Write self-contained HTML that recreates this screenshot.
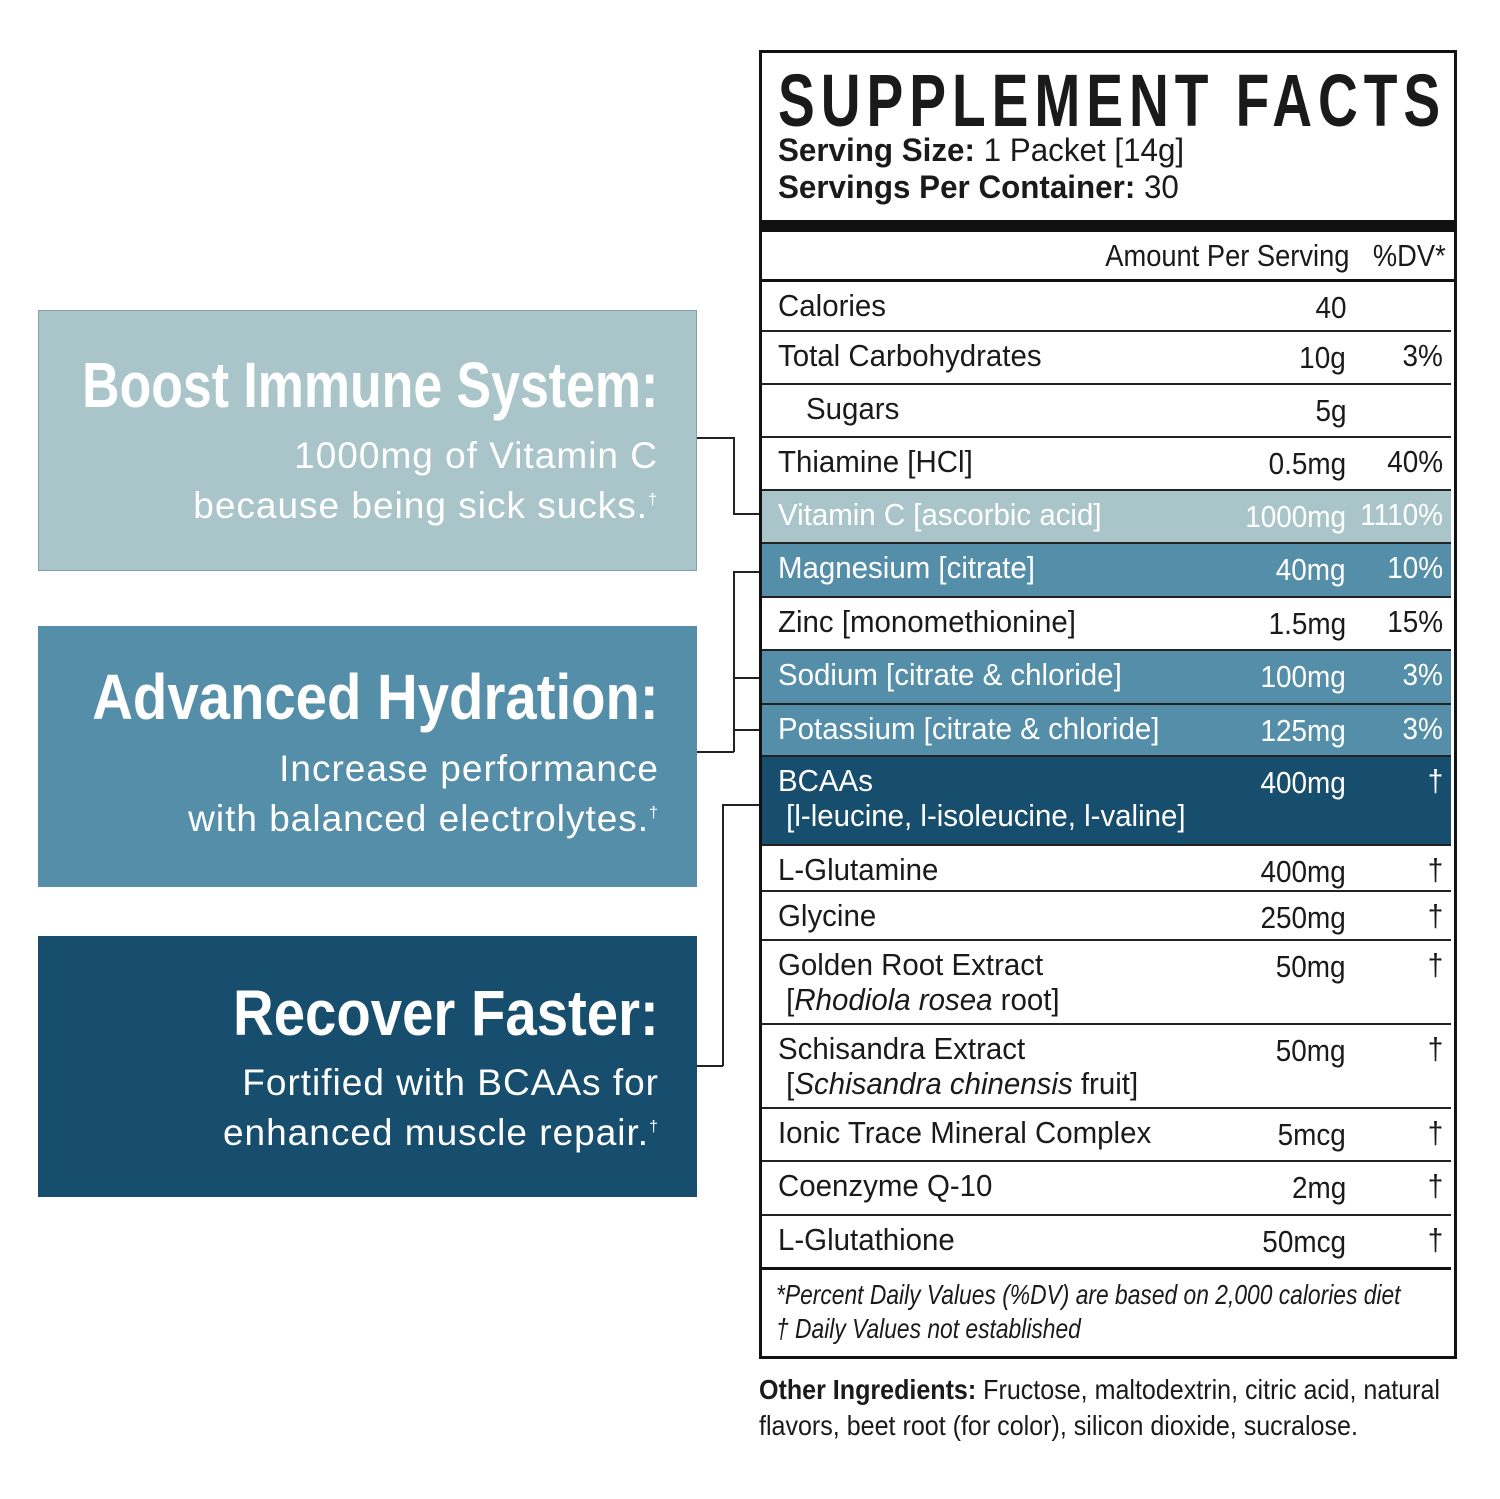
<!DOCTYPE html>
<html><head><meta charset="utf-8"><style>
*{margin:0;padding:0;box-sizing:border-box}
body{width:1500px;height:1499px;background:#fff;position:relative;overflow:hidden;font-family:"Liberation Sans",sans-serif;color:#1a1a1a}
.a{position:absolute;white-space:nowrap}
.box{position:absolute;left:38px;width:659px;height:261px;color:#fff;overflow:hidden}
.box .h{position:absolute;right:38px;font-size:64px;font-weight:bold;line-height:64px;white-space:nowrap;transform:scaleX(0.88);transform-origin:right}
.box .p{position:absolute;right:38px;font-size:37px;line-height:50px;letter-spacing:1px;white-space:nowrap}
.ln{position:absolute;background:#222}
.row{position:absolute;left:762px;width:689px;border-bottom:2px solid #222;font-size:31px}
.row .n{position:absolute;left:16px;top:6px;white-space:nowrap;transform:scaleX(0.95);transform-origin:left}
.row .v{position:absolute;right:105px;top:8px;transform:scaleX(0.9);transform-origin:right}
.row .d{position:absolute;right:8px;top:6px;transform:scaleX(0.9);transform-origin:right}
.light{background:#a9c5c9;color:#fff}
.mid{background:#548ea8;color:#fff}
.dark{background:#174e6e;color:#fff}
.th{font-weight:300}
sup{font-size:16px;line-height:0}
</style></head><body>
<div class="box" style="top:310px;background:#a9c5c9;border:1px solid #7fa2a8"><div class="h" style="top:42px;transform:scaleX(0.81)">Boost Immune System:</div><div class="p" style="top:120px">1000mg of Vitamin C</div><div class="p" style="top:170px">because being sick sucks.<sup>†</sup></div></div>
<div class="box" style="top:626px;background:#548ea8"><div class="h" style="top:39px">Advanced Hydration:</div><div class="p" style="top:118px">Increase performance</div><div class="p" style="top:168px">with balanced electrolytes.<sup>†</sup></div></div>
<div class="box" style="top:936px;background:#174e6e"><div class="h" style="top:45px">Recover Faster:</div><div class="p" style="top:122px">Fortified with BCAAs for</div><div class="p" style="top:172px">enhanced muscle repair.<sup>†</sup></div></div>

<div class="ln" style="left:697px;top:437px;width:37px;height:1.5px"></div>
<div class="ln" style="left:733px;top:437px;width:1.5px;height:77px"></div>
<div class="ln" style="left:733px;top:513px;width:29px;height:1.5px"></div>
<div class="ln" style="left:697px;top:751px;width:37px;height:1.5px"></div>
<div class="ln" style="left:733px;top:571px;width:1.5px;height:181px"></div>
<div class="ln" style="left:733px;top:571px;width:29px;height:1.5px"></div>
<div class="ln" style="left:733px;top:677px;width:29px;height:1.5px"></div>
<div class="ln" style="left:733px;top:729px;width:29px;height:1.5px"></div>
<div class="ln" style="left:697px;top:1065px;width:26px;height:1.5px"></div>
<div class="ln" style="left:722px;top:804px;width:1.5px;height:262px"></div>
<div class="ln" style="left:722px;top:804px;width:40px;height:1.5px"></div>

<div class="a" style="left:759px;top:50px;width:698px;height:1309px;border:3px solid #111"></div>
<div class="a" style="left:778px;top:58px;font-size:74px;font-weight:bold;letter-spacing:8px;transform:scaleX(0.745);transform-origin:left">SUPPLEMENT FACTS</div>
<div class="a" style="left:778px;top:132px;font-size:32px;line-height:37px;transform:scaleX(0.98);transform-origin:left"><b>Serving Size:</b> 1 Packet [14g]<br><b>Servings Per Container:</b> 30</div>
<div class="a" style="left:762px;top:220px;width:692px;height:12px;background:#111"></div>
<div class="a" style="left:762px;top:232px;width:692px;height:50px;border-bottom:3px solid #111;font-size:31px"><span class="a" style="right:105px;top:6px;transform:scaleX(0.88);transform-origin:right">Amount Per Serving</span><span class="a" style="right:8px;top:6px;transform:scaleX(0.88);transform-origin:right">%DV*</span></div>

<div class="row" style="top:282px;height:50px"><span class="n">Calories</span><span class="v">40</span></div>
<div class="row" style="top:332px;height:53px"><span class="n">Total Carbohydrates</span><span class="v">10g</span><span class="d">3%</span></div>
<div class="row" style="top:385px;height:53px"><span class="n" style="left:44px">Sugars</span><span class="v">5g</span></div>
<div class="row" style="top:438px;height:53px"><span class="n">Thiamine <span class="th">[HCl]</span></span><span class="v">0.5mg</span><span class="d">40%</span></div>
<div class="row light" style="top:491px;height:53px"><span class="n">Vitamin C <span class="th">[ascorbic acid]</span></span><span class="v">1000mg</span><span class="d">1110%</span></div>
<div class="row mid" style="top:544px;height:54px"><span class="n">Magnesium <span class="th">[citrate]</span></span><span class="v">40mg</span><span class="d">10%</span></div>
<div class="row" style="top:598px;height:53px"><span class="n">Zinc <span class="th">[monomethionine]</span></span><span class="v">1.5mg</span><span class="d">15%</span></div>
<div class="row mid" style="top:651px;height:54px"><span class="n">Sodium <span class="th">[citrate &amp; chloride]</span></span><span class="v">100mg</span><span class="d">3%</span></div>
<div class="row mid" style="top:705px;height:52px"><span class="n">Potassium <span class="th">[citrate &amp; chloride]</span></span><span class="v">125mg</span><span class="d">3%</span></div>
<div class="row dark" style="top:757px;height:89px"><span class="n" style="line-height:35px">BCAAs<br><span class="th">&nbsp;[l-leucine, l-isoleucine, l-valine]</span></span><span class="v">400mg</span><span class="d">†</span></div>
<div class="row" style="top:846px;height:46px"><span class="n">L-Glutamine</span><span class="v">400mg</span><span class="d">†</span></div>
<div class="row" style="top:892px;height:49px"><span class="n">Glycine</span><span class="v">250mg</span><span class="d">†</span></div>
<div class="row" style="top:941px;height:84px"><span class="n" style="line-height:35px">Golden Root Extract<br><span class="th">&nbsp;[<i>Rhodiola rosea</i> root]</span></span><span class="v">50mg</span><span class="d">†</span></div>
<div class="row" style="top:1025px;height:84px"><span class="n" style="line-height:35px">Schisandra Extract<br><span class="th">&nbsp;[<i>Schisandra chinensis</i> fruit]</span></span><span class="v">50mg</span><span class="d">†</span></div>
<div class="row" style="top:1109px;height:53px"><span class="n">Ionic Trace Mineral Complex</span><span class="v">5mcg</span><span class="d">†</span></div>
<div class="row" style="top:1162px;height:54px"><span class="n">Coenzyme Q-10</span><span class="v">2mg</span><span class="d">†</span></div>
<div class="row" style="top:1216px;height:54px;border-bottom:3px solid #111"><span class="n">L-Glutathione</span><span class="v">50mcg</span><span class="d">†</span></div>
<div class="a" style="left:776px;top:1278px;font-size:28px;font-style:italic;line-height:34px;transform:scaleX(0.815);transform-origin:left">*Percent Daily Values (%DV) are based on 2,000 calories diet<br>† Daily Values not established</div>
<div class="a" style="left:759px;top:1372px;font-size:28px;line-height:36px;transform:scaleX(0.895);transform-origin:left"><b>Other Ingredients:</b> Fructose, maltodextrin, citric acid, natural<br>flavors, beet root (for color), silicon dioxide, sucralose.</div>
</body></html>
